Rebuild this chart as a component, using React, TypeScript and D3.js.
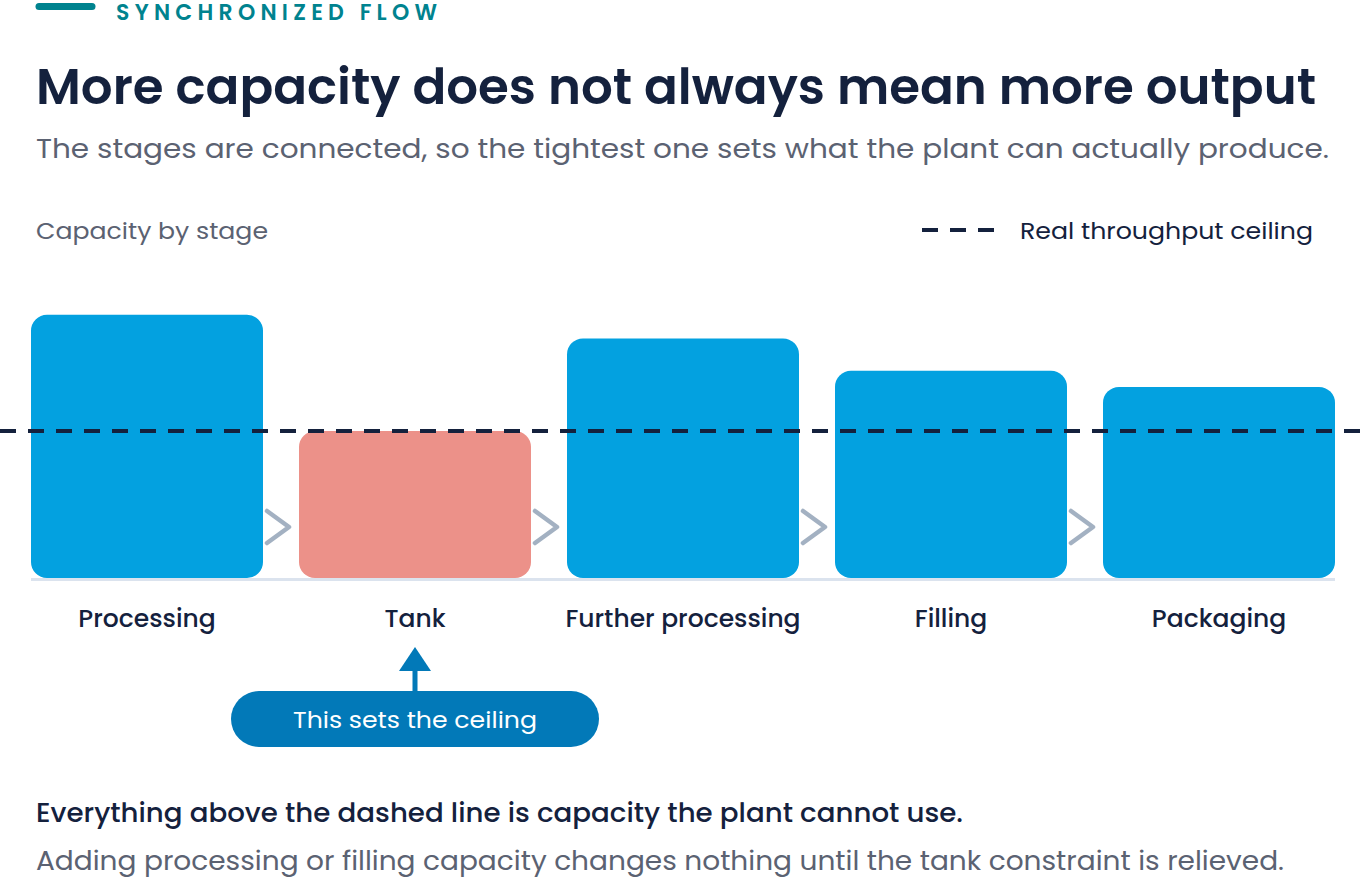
import React from "react";
import * as d3 from "d3";

const stages = ["Processing", "Tank", "Further processing", "Filling", "Packaging"];
const capacity = [179, 100, 163, 141, 130];
const constraintStage = "Tank";
const ceilingValue = 100;

const eyebrow = "SYNCHRONIZED FLOW";
const title = "More capacity does not always mean more output";
const subtitle = "The stages are connected, so the tightest one sets what the plant can actually produce.";
const axisTitle = "Capacity by stage";
const legendLabel = "Real throughput ceiling";
const calloutText = "This sets the ceiling";
const note1 = "Everything above the dashed line is capacity the plant cannot use.";
const note2 = "Adding processing or filling capacity changes nothing until the tank constraint is relieved.";

const W = 1364;
const H = 879;
const FONT = "Poppins, 'Open Sans', 'Noto Sans', sans-serif";
const NAVY = "#14213d";
const GRAY = "#5b6272";
const BLUE = "#03a1e0";
const RED = "#ec9189";
const TEAL = "#00838f";

export default function App() {
  const x = d3.scaleBand<string>().domain(stages).range([31, 1335]).paddingInner(36 / 268).paddingOuter(0);
  const y = d3.scaleLinear().domain([0, 100]).range([578, 431]);
  const bw = x.bandwidth();
  const cx = (s: string) => (x(s) as number) + bw / 2;
  const yBase = y(0);
  const yCeil = y(ceilingValue);

  const roundedRect = (x0: number, y0: number, w: number, h: number, r: number) => {
    const p = d3.path();
    p.moveTo(x0 + r, y0);
    p.lineTo(x0 + w - r, y0);
    p.arcTo(x0 + w, y0, x0 + w, y0 + r, r);
    p.lineTo(x0 + w, y0 + h - r);
    p.arcTo(x0 + w, y0 + h, x0 + w - r, y0 + h, r);
    p.lineTo(x0 + r, y0 + h);
    p.arcTo(x0, y0 + h, x0, y0 + h - r, r);
    p.lineTo(x0, y0 + r);
    p.arcTo(x0, y0, x0 + r, y0, r);
    p.closePath();
    return p.toString();
  };

  const tx = cx(constraintStage);

  return (
    <svg width={W} height={H} style={{ position: "absolute", left: 0, top: 0, background: "#fff" }} fontFamily={FONT}>
      {/* eyebrow */}
      <line x1={39} y1={6.5} x2={92} y2={6.5} stroke={TEAL} strokeWidth={7} strokeLinecap="round" />
      <text x={116} y={20} fontSize={22} fontWeight={600} fill={TEAL} textLength={321} lengthAdjust="spacing">{eyebrow}</text>

      {/* title */}
      <text x={36} y={104} fontSize={50} fontWeight={600} fill={NAVY} textLength={1280} lengthAdjust="spacingAndGlyphs">{title}</text>
      <text x={36} y={158} fontSize={27} fill={GRAY} textLength={1293} lengthAdjust="spacingAndGlyphs">{subtitle}</text>

      {/* axis title & legend */}
      <text x={36} y={239} fontSize={23} fill={GRAY} textLength={232} lengthAdjust="spacingAndGlyphs">{axisTitle}</text>
      <line x1={922} y1={230} x2={995} y2={230} stroke={NAVY} strokeWidth={4} strokeDasharray="16 12" />
      <text x={1020} y={239} fontSize={23} fill={NAVY} textLength={293} lengthAdjust="spacingAndGlyphs">{legendLabel}</text>

      {/* baseline */}
      <line x1={31} y1={579.5} x2={1335} y2={579.5} stroke="#dbe3ee" strokeWidth={3} />

      {/* bars */}
      {stages.map((s, i) => {
        const top = y(capacity[i]);
        return (
          <path key={s} d={roundedRect(x(s) as number, top, bw, yBase - top, 16)} fill={s === constraintStage ? RED : BLUE} />
        );
      })}

      {/* chevrons */}
      {stages.slice(0, -1).map((s) => {
        const gx = (x(s) as number) + bw;
        const cy = 527;
        return (
          <path key={"c" + s} d={`M${gx + 4},${cy - 16} L${gx + 26},${cy} L${gx + 4},${cy + 16}`} fill="none" stroke="#a3b1c2" strokeWidth={4.5} strokeLinecap="round" strokeLinejoin="round" />
        );
      })}

      {/* ceiling */}
      <line x1={0} y1={yCeil} x2={W} y2={yCeil} stroke={NAVY} strokeWidth={4} strokeDasharray="16 12" />

      {/* labels */}
      {stages.map((s) => (
        <text key={"l" + s} x={cx(s)} y={627} textAnchor="middle" fontSize={25} fontWeight={500} fill={NAVY}>{s}</text>
      ))}

      {/* callout */}
      <path d={`M${tx},647 L${tx + 16},671 L${tx - 16},671 Z`} fill="#0279b8" />
      <rect x={tx - 2.5} y={668} width={5} height={26} fill="#0279b8" />
      <rect x={231} y={691} width={368} height={56} rx={28} fill="#0279b8" />
      <text x={tx} y={728} textAnchor="middle" fontSize={23} fill="#fff" textLength={244} lengthAdjust="spacingAndGlyphs">{calloutText}</text>

      {/* notes */}
      <text x={36} y={822} fontSize={26} fontWeight={500} fill={NAVY} textLength={927} lengthAdjust="spacingAndGlyphs">{note1}</text>
      <text x={36} y={870} fontSize={26} fill={GRAY} textLength={1248} lengthAdjust="spacingAndGlyphs">{note2}</text>
    </svg>
  );
}
